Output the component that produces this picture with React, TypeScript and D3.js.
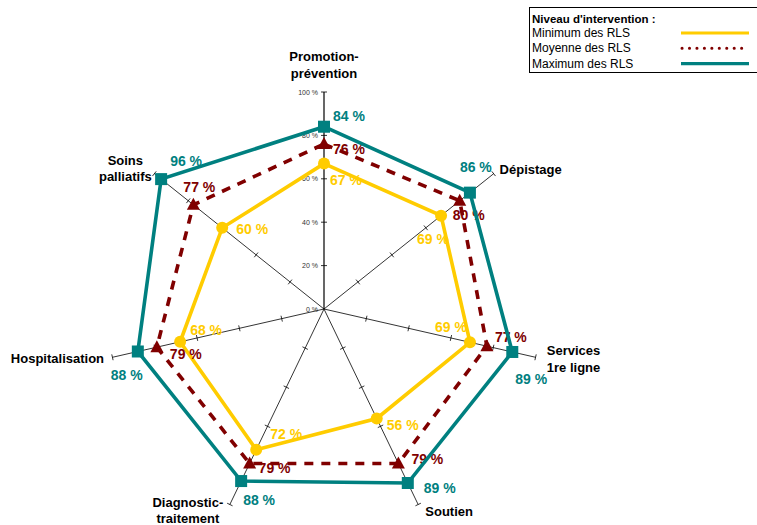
import * as d3 from 'd3';

// Axes (clockwise from top) and values, in %
const categories = [
  'Promotion-\nprévention',
  'Dépistage',
  'Services\n1re ligne',
  'Soutien',
  'Diagnostic-\ntraitement',
  'Hospitalisation',
  'Soins\npalliatifs',
];
const minValues = [67, 69, 69, 56, 72, 68, 60];
const meanValues = [76, 80, 77, 79, 79, 79, 77];
const maxValues = [84, 86, 89, 89, 88, 88, 96];
const tickValues = [0, 20, 40, 60, 80, 100];
const legendTitle = "Niveau d'intervention :";
const seriesNames = ['Minimum des RLS', 'Moyenne des RLS', 'Maximum des RLS'];

const FONT = '"Liberation Sans", Arial, Helvetica, sans-serif';
const cx = 324;
const cy = 309;
const R = 217;

// label nudges (dx, dy from the point), picked by hand like the original
const minLabelOffsets = [[6, 21], [-24, 28], [-35, -10], [10, 12], [14, -11], [10, -7], [14, 6]];
const meanLabelOffsets = [[9, 10], [-7, 19], [8, -4], [13, 1], [9, 10], [13, 12], [-10, -13]];
const maxLabelOffsets = [[9, -6], [-10, -21], [3, 32], [16, 10], [2, 24], [-27, 29], [9, -13]];
// category label nudges from the end of each spoke
const catOffsets = [[0, -31], [37, 0], [38, -2], [31, 11], [-42, 2], [-55, 6], [-29, -9]];

export default function App() {
  const n = categories.length;
  const angle = d3.scaleLinear().domain([0, n]).range([0, 2 * Math.PI]);
  const r = d3.scaleLinear().domain([0, 100]).range([0, R]);

  const pt = (i: number, v: number): [number, number] => {
    const a = angle(i);
    return [cx + r(v) * Math.sin(a), cy - r(v) * Math.cos(a)];
  };

  const radial = d3
    .lineRadial<number>()
    .angle((_, i) => angle(i))
    .radius((d) => r(d))
    .curve(d3.curveLinearClosed);

  const series = [
    { values: minValues, color: '#FFCC00', dash: undefined, marker: 'circle', offsets: minLabelOffsets },
    { values: meanValues, color: '#800000', dash: '9,8', marker: 'triangle', offsets: meanLabelOffsets },
    { values: maxValues, color: '#008080', dash: undefined, marker: 'square', offsets: maxLabelOffsets },
  ];

  const marker = (type: string, x: number, y: number, color: string, key: string) => {
    if (type === 'circle') return <circle key={key} cx={x} cy={y} r={6} fill={color} />;
    if (type === 'square') return <rect key={key} x={x - 6} y={y - 6} width={12} height={12} fill={color} />;
    return <path key={key} d={`M${x},${y - 7}L${x + 6.5},${y + 5}L${x - 6.5},${y + 5}Z`} fill={color} />;
  };

  return (
    <div style={{ position: 'absolute', left: 0, top: 0 }}>
      <svg width={757} height={525} style={{ display: 'block', background: '#fff' }} fontFamily={FONT}>
        {/* spokes with ticks */}
        {categories.map((_, i) => {
          const [ex, ey] = pt(i, 100);
          const a = angle(i);
          const px = Math.cos(a);
          const py = Math.sin(a);
          return (
            <g key={'ax' + i}>
              <line x1={cx} y1={cy} x2={ex} y2={ey} stroke="#000" strokeWidth={i === 0 ? 1.2 : 0.8} />
              {tickValues.slice(1).map((t) => {
                const [tx, ty] = pt(i, t);
                return (
                  <line
                    key={t}
                    x1={tx - px * 3}
                    y1={ty - py * 3}
                    x2={tx + px * 3}
                    y2={ty + py * 3}
                    stroke="#000"
                    strokeWidth={0.8}
                  />
                );
              })}
            </g>
          );
        })}

        {/* value axis labels */}
        {tickValues.map((t) => (
          <text key={'t' + t} x={cx - 6} y={cy - r(t) + 2.5} fontSize={7} fill="#333" textAnchor="end">
            {t} %
          </text>
        ))}

        {/* series */}
        {series.map((s, si) => (
          <g key={'s' + si}>
            <path
              d={radial(s.values) || ''}
              transform={`translate(${cx},${cy})`}
              fill="none"
              stroke={s.color}
              strokeWidth={3.6}
              strokeDasharray={s.dash}
              strokeLinejoin="miter"
            />
            {s.values.map((v, i) => {
              const [x, y] = pt(i, v);
              return marker(s.marker, x, y, s.color, 'm' + i);
            })}
            {s.values.map((v, i) => {
              const [x, y] = pt(i, v);
              return (
                <text
                  key={'l' + i}
                  x={x + s.offsets[i][0]}
                  y={y + s.offsets[i][1]}
                  fontSize={14}
                  fontWeight="bold"
                  fill={s.color}
                >
                  {v} %
                </text>
              );
            })}
          </g>
        ))}

        {/* category labels */}
        {categories.map((c, i) => {
          const [ex, ey] = pt(i, 100);
          const lines = c.split('\n');
          return (
            <text
              key={'c' + i}
              x={ex + catOffsets[i][0]}
              y={ey + catOffsets[i][1]}
              fontSize={13}
              fontWeight="bold"
              textAnchor="middle"
              fill="#000"
            >
              {lines.map((l, li) => (
                <tspan key={li} x={ex + catOffsets[i][0]} dy={li === 0 ? 0 : 16.5}>
                  {l}
                </tspan>
              ))}
            </text>
          );
        })}

        {/* legend */}
        <g>
          <rect x={529.5} y={7.5} width={240} height={65} fill="#fff" stroke="#000" strokeWidth={1} />
          <text x={532} y={23} fontSize={11.5} fontWeight="bold">
            {legendTitle}
          </text>
          {seriesNames.map((name, i) => {
            const y = 33 + i * 15.3;
            return (
              <g key={'lg' + i}>
                <text x={532} y={y + 4} fontSize={12}>
                  {name}
                </text>
                {i === 1 ? (
                  <line
                    x1={682}
                    y1={y}
                    x2={749}
                    y2={y}
                    stroke={series[i].color}
                    strokeWidth={3}
                    strokeLinecap="round"
                    strokeDasharray="0.1,7.35"
                  />
                ) : (
                  <line x1={681} y1={y} x2={749} y2={y} stroke={series[i].color} strokeWidth={3.2} />
                )}
              </g>
            );
          })}
        </g>
      </svg>
    </div>
  );
}
